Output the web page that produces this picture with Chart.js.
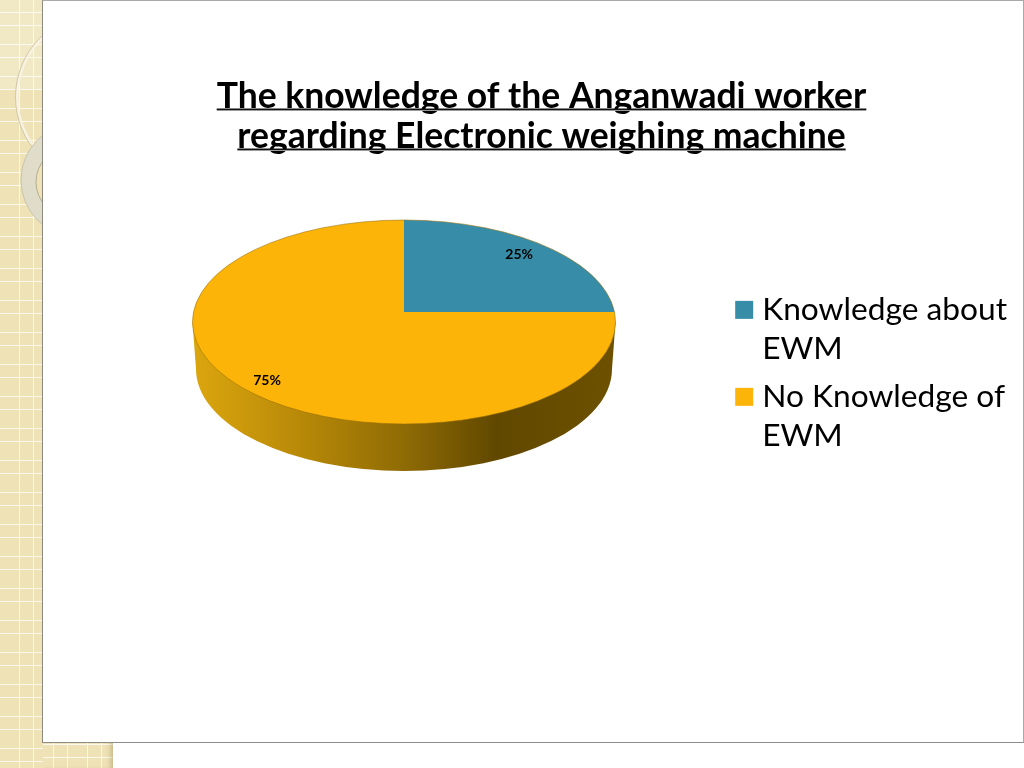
<!DOCTYPE html>
<html>
<head>
<meta charset="utf-8">
<title>Knowledge of EWM</title>
<script src="https://cdn.jsdelivr.net/npm/chart.js@4"></script>
<style>
  html, body { margin: 0; padding: 0; background: #fff; overflow: hidden; }
  #page { position: relative; width: 1024px; height: 768px; overflow: hidden; }
  .strip {
    position: absolute;
    background-color: #eee2b6;
    background-image:
      repeating-linear-gradient(to right, transparent 0, transparent 19px, #fbf8ec 19px, #fbf8ec 20px, transparent 20px, transparent 33px, #fbf8ec 33px, #fbf8ec 34px, transparent 34px, transparent 32px),
      repeating-linear-gradient(to bottom, transparent 0, transparent 12px, #fbf8ec 12px, #fbf8ec 13px, transparent 13px, transparent 25px, #fbf8ec 25px, #fbf8ec 26px, transparent 26px, transparent 32px);
  }
  #left { left: 0; top: 0; width: 43px; height: 768px; }
  #bottom { left: 0; top: 700px; width: 113px; height: 68px; box-shadow: inset -5px 0 5px -3px rgba(120,95,40,.35); }
  #fade { position: absolute; left: 0; top: 0; width: 43px; height: 90px; background: rgba(255,255,255,.22); }
  #deco { position: absolute; left: 0; top: 0; }
  #panel { position: absolute; left: 42px; top: 0; width: 980px; height: 741px; background: #fff; border: 1px solid #a9a9a9; border-left-color: #8f8a80; border-bottom-color: #8d8d8d; }
  #c { position: absolute; left: 50px; top: 0; }
</style>
</head>
<body>
<div id="page">
  <div class="strip" id="bottom"></div>
  <div class="strip" id="left"></div>
  <div id="fade"></div>
  <svg id="deco" width="43" height="240">
    <circle cx="99" cy="97" r="82" fill="none" stroke="#f8f2e0" stroke-width="3"/>
    <circle cx="99" cy="97" r="83.5" fill="none" stroke="#d2c7a6" stroke-width="1"/>
    <circle cx="78" cy="180" r="57" fill="#dfdcc9" stroke="#c9c4ac" stroke-width="1"/>
    <circle cx="71" cy="182" r="35" fill="#eee2b6" stroke="#b5ad90" stroke-width="1"/>
  </svg>
  <div id="panel"></div>
  <canvas id="c" width="974" height="768"></canvas>
</div>
<script>
const titleLines = ['The knowledge of the Anganwadi worker', 'regarding Electronic weighing machine'];
const categories = [['Knowledge about', 'EWM'], ['No Knowledge of', 'EWM']];
const values = [25, 75];
const sliceColors = ['#378da8', '#fdb408'];
const labelReach = [0.77, 0.916];

const FONT = 'Lato, "Open Sans", sans-serif';

// squashed, tilted look: clip the library's arcs to the top ellipse, then add the side wall
const pie3d = {
  id: 'pie3d',
  beforeDatasetsDraw(chart) {
    const ctx = chart.ctx;
    const arcs = chart.getDatasetMeta(0).data;
    const el = arcs[0];
    const cx = 354, cy = 322, rx = 211.5, ry = 102;
    const vy = 312;
    const lowY = 369, lowRx = 208;

    const wall = ctx.createLinearGradient(cx - rx, 0, cx + rx, 0);
    wall.addColorStop(0, '#dba60e');
    wall.addColorStop(0.25, '#b98a08');
    wall.addColorStop(0.5, '#8f6b05');
    wall.addColorStop(0.72, '#614800');
    wall.addColorStop(1, '#6d5100');
    ctx.save();
    ctx.beginPath();
    ctx.moveTo(cx - rx, cy);
    ctx.lineTo(cx - lowRx, lowY);
    ctx.ellipse(cx, lowY, lowRx, ry, 0, Math.PI, 0, true);
    ctx.lineTo(cx + rx, cy);
    ctx.closePath();
    ctx.fillStyle = wall;
    ctx.fill();
    ctx.restore();

    const k = (rx * 1.2) / el.outerRadius;
    ctx.save();
    ctx.beginPath();
    ctx.ellipse(cx, cy, rx, ry, 0, 0, Math.PI * 2);
    ctx.clip();
    ctx.translate(cx, vy);
    ctx.scale(k, k);
    ctx.translate(-el.x, -el.y);
    arcs.forEach(a => a.draw(ctx));
    ctx.restore();

    ctx.save();
    ctx.beginPath();
    ctx.ellipse(cx, cy, rx, ry, 0, 0, Math.PI * 2);
    ctx.strokeStyle = 'rgba(150,110,10,.55)';
    ctx.lineWidth = 1;
    ctx.stroke();
    ctx.restore();

    // percent labels
    ctx.save();
    ctx.font = 'bold 14px ' + FONT;
    ctx.fillStyle = '#000';
    ctx.textAlign = 'center';
    ctx.textBaseline = 'middle';
    const total = values.reduce((a, b) => a + b, 0);
    arcs.forEach((a, i) => {
      const mid = (a.startAngle + a.endAngle) / 2;
      const x = cx + labelReach[i] * rx * Math.cos(mid);
      const y = vy + labelReach[i] * 105 * Math.sin(mid);
      ctx.fillText(Math.round(values[i] / total * 100) + '%', x, y);
    });
    ctx.restore();
    return false;
  },
  afterDraw(chart) {
    // the title is underlined, a black rule with a grey one under it
    const ctx = chart.ctx;
    const box = chart.titleBlock;
    const mid = (box.left + box.right) / 2;
    ctx.save();
    ctx.font = box.options.font.weight + ' ' + box.options.font.size + 'px ' + FONT;
    titleLines.forEach((line, i) => {
      const w = ctx.measureText(line).width;
      const y = 108.5 + i * 40;
      ctx.fillStyle = '#111';
      ctx.fillRect(mid - w / 2, y, w, 1.5);
      ctx.fillStyle = '#9a9a9a';
      ctx.fillRect(mid - w / 2, y + 1.5, w, 1);
    });
    ctx.restore();
  }
};

new Chart(document.getElementById('c'), {
  type: 'pie',
  data: {
    labels: categories,
    datasets: [{
      data: values,
      backgroundColor: sliceColors,
      borderWidth: 0
    }]
  },
  plugins: [pie3d],
  options: {
    responsive: false,
    animation: false,
    events: [],
    layout: { padding: { left: 16, right: 7, bottom: 15, top: 0 } },
    plugins: {
      tooltip: { enabled: false },
      title: {
        display: true,
        text: titleLines,
        color: '#000',
        font: { family: FONT, size: 35.5, weight: 'bold', lineHeight: 1.127 },
        padding: { top: 77, bottom: 10 }
      },
      legend: {
        position: 'right',
        labels: {
          color: '#000',
          font: { family: FONT, size: 31.7, lineHeight: 1.23 },
          boxWidth: 4.3,
          boxHeight: 4.3,
          padding: 9,
          generateLabels(chart) {
            // thick same-colour stroke makes an 18px swatch sitting close to the text
            const items = Chart.overrides.pie.plugins.legend.labels.generateLabels(chart);
            items.forEach((it, i) => {
              it.lineWidth = 13.7;
              it.strokeStyle = sliceColors[i];
            });
            return items;
          }
        }
      }
    }
  }
});
</script>
</body>
</html>
